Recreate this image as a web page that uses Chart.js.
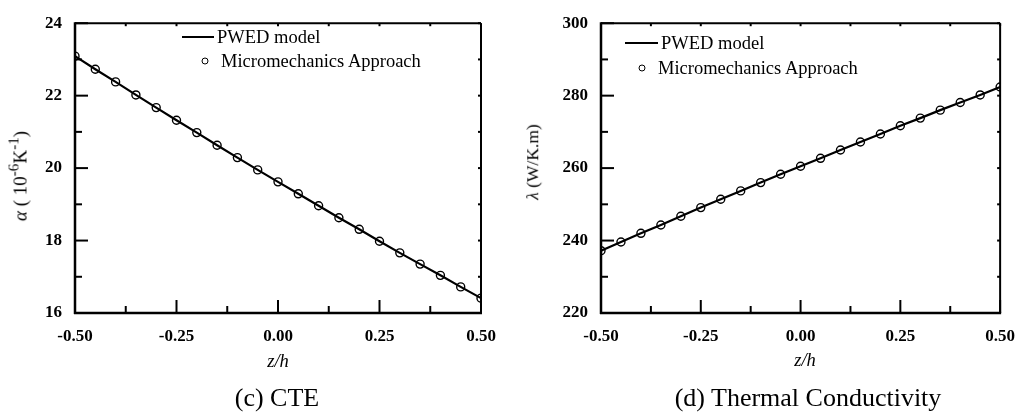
<!DOCTYPE html>
<html lang="en">
  <head>
    <meta charset="UTF-8" />
    <title>CTE and Thermal Conductivity</title>
    <script src="https://cdn.jsdelivr.net/npm/chart.js"></script>
    <style>
      body {
        margin: 0;
        background: #fff;
        font-family: "Liberation Serif", "Times New Roman", serif;
      }
      .page {
        position: relative;
        width: 1028px;
        height: 413px;
        overflow: hidden;
      }
      canvas {
        position: absolute;
        top: 0;
      }
      .txt {
        position: absolute;
        white-space: nowrap;
        color: #000;
        transform: translate(-50%, -50%);
        line-height: 1;
      }
      .ytitle {
        transform: translate(-50%, -50%) rotate(-90deg);
      }
      .leg {
        position: absolute;
        font-size: 18.5px;
        line-height: 1;
        white-space: nowrap;
        transform: translateY(-50%);
      }
      .legline {
        position: absolute;
        height: 0;
        border-top: 2px solid #000;
      }
      .legdot {
        position: absolute;
        width: 5px;
        height: 5px;
        border: 1.3px solid #000;
        border-radius: 50%;
        background: #fff;
        transform: translate(-50%, -50%);
      }
      sup {
        font-size: 0.8em;
        vertical-align: 0.5em;
        line-height: 0;
      }
    </style>
  </head>
  <body>
    <div class="page">
      <canvas id="cteChart" width="514" height="413" style="left: 0"></canvas>
      <canvas id="kChart" width="514" height="413" style="left: 514px"></canvas>

      <!-- left panel texts -->
      <div class="txt ytitle" style="left: 20px; top: 176px; font-size: 19px">
        <i>&alpha;</i> ( 10<sup>-6</sup>K<sup>-1</sup>)
      </div>
      <div class="txt" style="left: 278px; top: 361px; font-size: 18.5px"><i>z/h</i></div>
      <div class="txt" style="left: 277px; top: 398px; font-size: 26px">(c) CTE</div>
      <div class="legline" style="left: 182px; top: 36px; width: 32px"></div>
      <div class="leg" style="left: 217px; top: 37px">PWED model</div>
      <div class="legdot" style="left: 205px; top: 61px"></div>
      <div class="leg" style="left: 221px; top: 61px">Micromechanics Approach</div>

      <!-- right panel texts -->
      <div class="txt ytitle" style="left: 533px; top: 162px; font-size: 17.5px">
        <i>&lambda;</i> (W/K.m)
      </div>
      <div class="txt" style="left: 805px; top: 360px; font-size: 18.5px"><i>z/h</i></div>
      <div class="txt" style="left: 808px; top: 398px; font-size: 26px">(d) Thermal Conductivity</div>
      <div class="legline" style="left: 625px; top: 42px; width: 33px"></div>
      <div class="leg" style="left: 661px; top: 43px">PWED model</div>
      <div class="legdot" style="left: 642px; top: 68px"></div>
      <div class="leg" style="left: 658px; top: 68px">Micromechanics Approach</div>
    </div>

    <script>
      // z/h positions through the thickness
      const zh = [
        -0.5, -0.45, -0.4, -0.35, -0.3, -0.25, -0.2, -0.15, -0.1, -0.05, 0,
        0.05, 0.1, 0.15, 0.2, 0.25, 0.3, 0.35, 0.4, 0.45, 0.5,
      ];
      // CTE, 10^-6 1/K
      const cteValues = [
        23.09, 22.73, 22.38, 22.02, 21.67, 21.32, 20.98, 20.63, 20.29, 19.95,
        19.62, 19.29, 18.96, 18.63, 18.31, 17.98, 17.66, 17.35, 17.04, 16.72,
        16.41,
      ];
      // thermal conductivity, W/K.m
      const kValues = [
        237.2, 239.6, 242.0, 244.3, 246.7, 249.1, 251.4, 253.7, 256.0, 258.3,
        260.5, 262.7, 265.0, 267.2, 269.4, 271.7, 273.8, 276.0, 278.1, 280.2,
        282.4,
      ];
      const xTickValues = [-0.5, -0.25, 0, 0.25, 0.5];
      const cteTickValues = [16, 18, 20, 22, 24];
      const kTickValues = [220, 240, 260, 280, 300];

      const tickFont = {
        family: "'Liberation Serif', 'Times New Roman', serif",
        size: 17,
        weight: "bold",
      };

      // box frame with inward major/minor ticks on all four sides
      const frameTicks = {
        id: "frameTicks",
        afterDatasetsDraw(chart, args, opts) {
          const { ctx, chartArea: a } = chart;
          const xs = chart.scales.x;
          const ys = chart.scales.y;
          const line = (x1, y1, x2, y2) => {
            ctx.beginPath();
            ctx.moveTo(x1, y1);
            ctx.lineTo(x2, y2);
            ctx.stroke();
          };
          ctx.save();
          ctx.strokeStyle = "#000";
          ctx.lineWidth = 2;

          xTickValues.forEach((v, i) => {
            const px = xs.getPixelForValue(v);
            line(px, a.bottom, px, a.bottom - 13);
            line(px, a.top, px, a.top + 3);
            if (i < xTickValues.length - 1) {
              const m = xs.getPixelForValue((v + xTickValues[i + 1]) / 2);
              line(m, a.bottom, m, a.bottom - 7);
              line(m, a.top, m, a.top + 3);
            }
          });

          const yt = opts.yTicks;
          yt.forEach((v, i) => {
            const py = ys.getPixelForValue(v);
            line(a.left, py, a.left + 13, py);
            line(a.right, py, a.right - 3, py);
            if (i < yt.length - 1) {
              const m = ys.getPixelForValue((v + yt[i + 1]) / 2);
              line(a.left, m, a.left + 7, m);
              line(a.right, m, a.right - 3, m);
            }
          });

          ctx.lineWidth = 2;
          line(a.left, a.top, a.right, a.top);
          line(a.right, a.top, a.right, a.bottom);
          ctx.lineWidth = 2.5;
          line(a.left, a.top - 1, a.left, a.bottom + 1);
          line(a.left - 1, a.bottom, a.right + 1, a.bottom);
          ctx.restore();
        },
      };

      function makeChart(id, values, yTicks, axisWidth, padRight) {
        const pts = zh.map((z, i) => ({ x: z, y: values[i] }));
        return new Chart(document.getElementById(id), {
          type: "scatter",
          data: {
            datasets: [
              {
                label: "PWED model",
                data: pts,
                showLine: true,
                borderColor: "#000",
                borderWidth: 2.2,
                pointRadius: 0,
                clip: 1,
              },
              {
                label: "Micromechanics Approach",
                data: pts,
                showLine: false,
                pointRadius: 4,
                pointBorderWidth: 1.4,
                pointBorderColor: "#000",
                pointBackgroundColor: "#fff",
                clip: 0,
              },
            ],
          },
          options: {
            responsive: false,
            animation: false,
            events: [],
            layout: { padding: { top: 15, right: padRight, left: 0, bottom: 0 } },
            plugins: {
              legend: { display: false },
              tooltip: { enabled: false },
              frameTicks: { yTicks: yTicks },
            },
            scales: {
              x: {
                type: "linear",
                min: -0.5,
                max: 0.5,
                grid: { display: false, drawTicks: false },
                border: { display: false },
                afterBuildTicks: (s) => {
                  s.ticks = xTickValues.map((v) => ({ value: v }));
                },
                afterFit: (s) => {
                  s.height = 100;
                },
                ticks: {
                  color: "#000",
                  font: tickFont,
                  padding: 13,
                  maxRotation: 0,
                  callback: (v) => v.toFixed(2),
                },
              },
              y: {
                type: "linear",
                min: yTicks[0],
                max: yTicks[yTicks.length - 1],
                grid: { display: false, drawTicks: false },
                border: { display: false },
                afterBuildTicks: (s) => {
                  s.ticks = yTicks.map((v) => ({ value: v }));
                },
                afterFit: (s) => {
                  s.width = axisWidth;
                },
                ticks: {
                  color: "#000",
                  font: tickFont,
                  padding: 13,
                },
              },
            },
          },
          plugins: [frameTicks],
        });
      }

      makeChart("cteChart", cteValues, cteTickValues, 75, 33);
      makeChart("kChart", kValues, kTickValues, 87, 20);
    </script>
  </body>
</html>
